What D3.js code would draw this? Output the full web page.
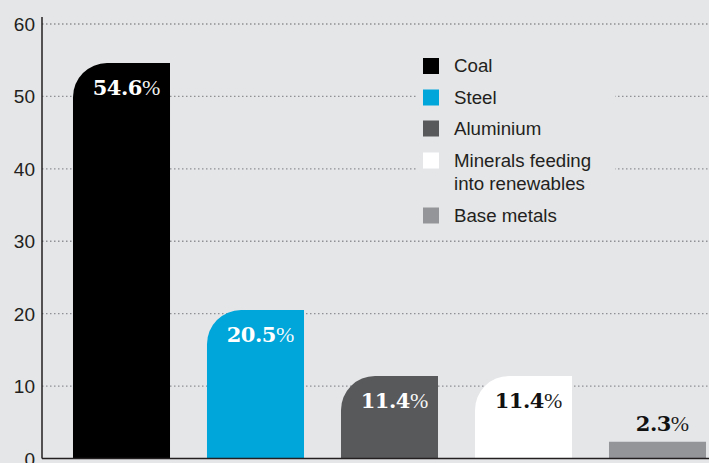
<!DOCTYPE html>
<html>
<head>
<meta charset="utf-8">
<script src="https://cdn.jsdelivr.net/npm/d3@7"></script>
<style>
  html, body { margin: 0; padding: 0; background: #e5e6e8; }
  svg { display: block; }
</style>
</head>
<body>
<div id="chart"></div>
<script>
const categories = ["Coal", "Steel", "Aluminium", "Minerals feeding into renewables", "Base metals"]
const values = [54.6, 20.5, 11.4, 11.4, 2.3]
const legendLines = [["Coal"], ["Steel"], ["Aluminium"], ["Minerals feeding", "into renewables"], ["Base metals"]]
const yTicks = [0, 10, 20, 30, 40, 50, 60]

const colors = ["#000000", "#00a5d9", "#58595b", "#ffffff", "#939598"]
const labelColors = ["#ffffff", "#ffffff", "#ffffff", "#111111", "#111111"]

const width = 709, height = 463
const bg = "#e5e6e8"
const ink = "#231f20"

const svg = d3.select("#chart").append("svg")
  .attr("width", width)
  .attr("height", height)

svg.append("rect").attr("width", width).attr("height", height).attr("fill", bg)

// ===== scales =====
const y = d3.scaleLinear().domain([0, 60]).range([458.5, 24])
const x = d3.scaleBand().domain(categories).range([54.5, 724.5]).paddingInner(0.276).paddingOuter(0.138)

const axisX = 42

// gridlines
svg.append("g")
  .selectAll("line")
  .data(yTicks.filter(d => d > 0))
  .join("line")
  .attr("x1", axisX)
  .attr("x2", width)
  .attr("y1", d => y(d))
  .attr("y2", d => y(d))
  .attr("stroke", "#8f9093")
  .attr("stroke-width", 1.3)
  .attr("stroke-dasharray", "1.5,2.5")

// legend background hides gridlines behind it
svg.append("rect")
  .attr("x", 417).attr("y", 48)
  .attr("width", 198).attr("height", 182)
  .attr("fill", bg)

// ===== bars =====
const r = 34
function barPath(d, i) {
  const x0 = x(categories[i]), x1 = x0 + x.bandwidth()
  const top = y(d), bottom = y(0)
  const rr = bottom - top > r ? r : 0
  const p = d3.path()
  p.moveTo(x0, bottom)
  p.lineTo(x0, top + rr)
  if (rr > 0) p.arcTo(x0, top, x0 + rr, top, rr)
  p.lineTo(x1, top)
  p.lineTo(x1, bottom)
  p.closePath()
  return p.toString()
}

svg.append("g")
  .selectAll("path")
  .data(values)
  .join("path")
  .attr("d", barPath)
  .attr("fill", (d, i) => colors[i])

// value labels
const labels = svg.append("g")
  .selectAll("text")
  .data(values)
  .join("text")
  .attr("x", (d, i) => x(categories[i]) + x.bandwidth() / 2 + 5)
  .attr("y", d => (y(0) - y(d) > r ? y(d) + 32 : y(d) - 11))
  .attr("text-anchor", "middle")
  .attr("font-family", "'DejaVu Serif', 'Liberation Serif', serif")
  .attr("font-size", 21)
  .attr("fill", (d, i) => labelColors[i])

labels.append("tspan")
  .attr("font-weight", "bold")
  .attr("letter-spacing", -0.5)
  .text(d => d.toFixed(1))
labels.append("tspan")
  .attr("font-weight", "normal")
  .attr("font-family", "'Liberation Serif', serif")
  .attr("font-size", 22)
  .attr("fill-opacity", 0.95)
  .text("%")

// ===== axes =====
svg.append("line")
  .attr("x1", axisX).attr("x2", axisX)
  .attr("y1", 17).attr("y2", y(0))
  .attr("stroke", ink).attr("stroke-width", 1.5)

svg.append("line")
  .attr("x1", axisX).attr("x2", width)
  .attr("y1", y(0)).attr("y2", y(0))
  .attr("stroke", ink).attr("stroke-width", 1.6)

svg.append("g")
  .selectAll("text")
  .data(yTicks)
  .join("text")
  .attr("x", 35)
  .attr("y", d => y(d) + 7)
  .attr("text-anchor", "end")
  .attr("font-family", "'Liberation Sans', Arial, sans-serif")
  .attr("font-size", 19)
  .attr("fill", ink)
  .text(d => d)

// ===== legend =====
const legendRowY = [66, 97.5, 128.5, 160.5, 215.5]
const legend = svg.append("g")
  .selectAll("g")
  .data(legendLines)
  .join("g")
  .attr("transform", (d, i) => `translate(423,${legendRowY[i]})`)

legend.append("rect")
  .attr("x", 0).attr("y", -8)
  .attr("width", 16).attr("height", 16)
  .attr("fill", (d, i) => colors[i])

legend.append("text")
  .attr("x", 31)
  .attr("y", 6)
  .attr("font-family", "'Liberation Sans', Arial, sans-serif")
  .attr("font-size", 18.7)
  .attr("fill", ink)
  .selectAll("tspan")
  .data(d => d)
  .join("tspan")
  .attr("x", 31)
  .attr("dy", (d, j) => j === 0 ? 0 : 23)
  .text(d => d)
</script>
</body>
</html>
